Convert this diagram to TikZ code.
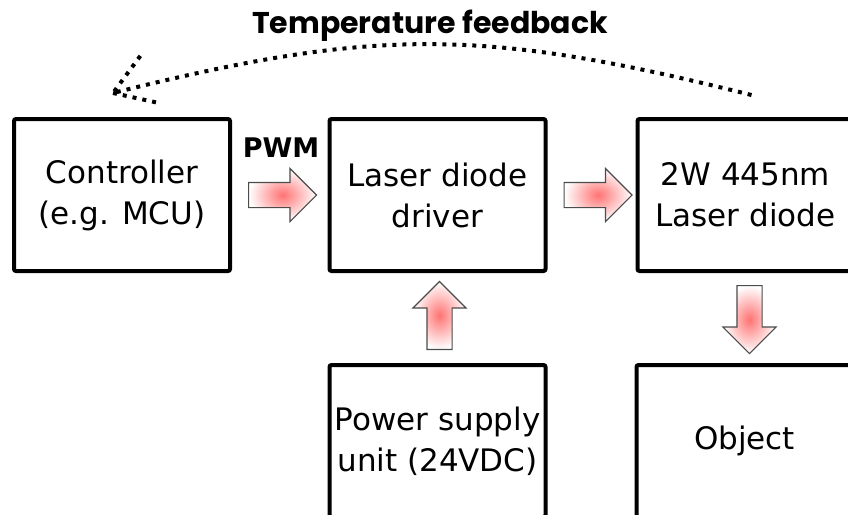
\documentclass[tikz,border=0pt]{standalone}
\usepackage{fontspec}
\setmainfont{DejaVu Sans}
\newfontfamily\headfont{Poppins}
\usetikzlibrary{shapes.arrows,calc}

\begin{document}
\begin{tikzpicture}[x=0.5pt, y=-0.5pt,
  blk/.style={draw, line width=2pt, rounded corners=1pt, minimum width=108pt, minimum height=76pt,
    align=center, inner sep=0pt, font=\fontsize{15.5}{20.5}\selectfont},
  flow/.style={single arrow, draw=black!70, line width=0.6pt, inner color=red!55, outer color=white,
    minimum height=34pt, minimum width=26pt, single arrow head extend=7pt, inner sep=6pt, anchor=tail},
  fb/.style={line width=2pt, dash pattern=on 2pt off 3pt}]
  \useasboundingbox (0,0) rectangle (848,515);
  % blocks
  \node[blk] (ctrl) at (122,195) {Controller\\(e.g. MCU)};
  \node[blk] (drv) at (437.5,195) {Laser diode\\driver};
  \node[blk] (ld) at (745.5,195) {2W 445nm\\Laser diode};
  \node[blk] (psu) at (437.5,441) {Power supply\\unit (24VDC)};
  \node[blk] (obj) at (744.5,441) {Object};
  % block arrows
  \node[flow] (a1) at ($(ctrl.east)+(16,0)$) {};
  \node[flow] (a2) at ($(drv.east)+(16,0)$) {};
  \node[flow, rotate=90] (a3) at ($(psu.north)+(2,-13)$) {};
  \node[flow, rotate=-90] (a4) at ($(ld.south)+(4,12)$) {};
  \node[font=\bfseries\fontsize{13.5}{15}\selectfont, anchor=base] (pwm) at (281,157) {PWM};
  % feedback
  \node[font=\headfont\bfseries\fontsize{15}{17}\selectfont, anchor=base] (title) at (430,33) {Temperature feedback};
  \coordinate (fbs) at ($(ld.north)+(6,-22)$);
  \coordinate (fbe) at ($(ctrl.north)+(-9,-24)$);
  \draw[fb] (fbs) .. controls +(-268,-67) and +(264,-66) .. (fbe) -- +(28,-38) (fbe) -- +(46,10);
\end{tikzpicture}
\end{document}
